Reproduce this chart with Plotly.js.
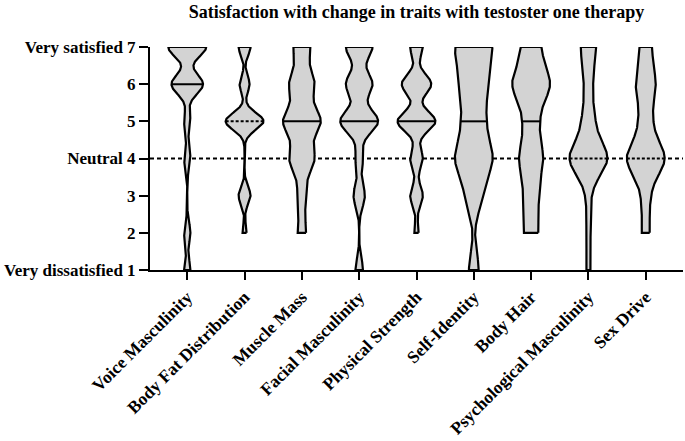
<!DOCTYPE html>
<html>
<head>
<meta charset="utf-8">
<script src="https://cdn.plot.ly/plotly-3.0.1.min.js"></script>
<style>html,body{margin:0;padding:0;background:#fff;}#chart{width:685px;height:441px;}</style>
</head>
<body>
<div id="chart"></div>
<script>
// ---------- DATA ----------
const categories = ["Voice Masculinity", "Body Fat Distribution", "Muscle Mass", "Facial Masculinity",
  "Physical Strength", "Self-Identity", "Body Hair", "Psychological Masculinity", "Sex Drive"];
const levels = [1, 2, 3, 4, 5, 6, 7];
// number of responses at each level 1..7
const countsVoiceMasculinity      = [1, 1, 0, 1, 1, 5, 6];
const countsBodyFatDistribution   = [0, 2, 6, 0, 19, 5, 6];
const countsMuscleMass            = [0, 2, 2, 6, 9, 6, 4];
const countsFacialMasculinity     = [2, 0, 3, 2, 10, 7, 7];
const countsPhysicalStrength      = [0, 1, 3, 3, 9, 7, 3];
const countsSelfIdentity          = [2, 0, 3, 7, 4, 5, 7];
const countsBodyHair              = [0, 3, 3, 5, 3, 8, 4];
const countsPsychMasculinity      = [1, 1, 1, 10, 3, 2, 4];
const countsSexDrive              = [0, 2, 2, 10, 3, 5, 3];
const medians = [6, 5, 5, 5, 5, 5, 5, 4, 4];
const yTickVals = [1, 2, 3, 4, 5, 6, 7];
const yTickText = ["Very dissatisfied 1", "2", "3", "Neutral 4", "5", "6", "Very satisfied 7"];
const neutralLevel = 4;
const chartTitle = "Satisfaction with change in traits with testoster one therapy";

// ---------- STYLE / KDE SETTINGS ----------
const allCounts = [countsVoiceMasculinity, countsBodyFatDistribution, countsMuscleMass,
  countsFacialMasculinity, countsPhysicalStrength, countsSelfIdentity, countsBodyHair,
  countsPsychMasculinity, countsSexDrive];
const bandwidths = [0.27, 0.23, 0.37, 0.31, 0.27, 0.48, 0.45, 0.45, 0.45];
const medianDotted = [false, true, false, false, false, false, false, true, true];
const halfWidth = 0.33;
const fontFam = "Liberation Serif, Times New Roman, serif";

function density(counts, h, y) {
  let s = 0;
  for (let k = 0; k < levels.length; k++) {
    const d = y - levels[k];
    s += counts[k] * Math.exp(-d * d / (2 * h * h));
  }
  return s;
}

const traces = [];
const medianTraces = [];
allCounts.forEach((counts, i) => {
  const h = bandwidths[i];
  const present = levels.filter((l, k) => counts[k] > 0);
  const lo = Math.min(...present), hi = Math.max(...present);
  const ys = [];
  const n = Math.round((hi - lo) / 0.01);
  for (let j = 0; j <= n; j++) ys.push(lo + (hi - lo) * j / n);
  const ds = ys.map(y => density(counts, h, y));
  const mx = Math.max(...ds);
  const ws = ds.map(d => halfWidth * d / mx);
  const xs = ys.map((y, j) => i + ws[j]).concat(ys.slice().reverse().map((y, j) => i - ws[ws.length - 1 - j]));
  const yy = ys.concat(ys.slice().reverse());
  xs.push(xs[0]); yy.push(yy[0]);
  traces.push({
    type: "scatter", mode: "lines", x: xs, y: yy, fill: "toself",
    fillcolor: "#d3d3d3", line: {color: "#000", width: 2.2}, hoverinfo: "skip", showlegend: false
  });
  const m = medians[i];
  const wm = halfWidth * density(counts, h, m) / mx;
  medianTraces.push({
    type: "scatter", mode: "lines", x: [i - wm, i + wm], y: [m, m],
    line: {color: "#000", width: 2, dash: medianDotted[i] ? "3px,2px" : "solid"},
    hoverinfo: "skip", showlegend: false
  });
});

const layout = {
  width: 685, height: 441,
  margin: {l: 150, r: 2, t: 47, b: 171},
  paper_bgcolor: "#fff", plot_bgcolor: "#fff",
  showlegend: false,
  title: {
    text: chartTitle,
    font: {family: fontFam, size: 18, color: "#000", weight: "bold"},
    x: 0.5, xref: "paper", xanchor: "center",
    y: 1 - 12 / 441, yref: "container", yanchor: "middle"
  },
  xaxis: {
    range: [-0.65, categories.length - 1 + 0.65],
    tickvals: categories.map((c, i) => i), ticktext: categories,
    tickangle: -45,
    ticks: "outside", ticklen: 8, tickwidth: 2, tickcolor: "#000",
    showline: true, linewidth: 2, linecolor: "#000",
    showgrid: false, zeroline: false,
    tickfont: {family: fontFam, size: 17.5, color: "#000", weight: "bold"}
  },
  yaxis: {
    range: [1, 7],
    tickvals: yTickVals, ticktext: yTickText,
    ticks: "outside", ticklen: 9, tickwidth: 2, tickcolor: "#000",
    showline: true, linewidth: 2, linecolor: "#000",
    showgrid: false, zeroline: false,
    tickfont: {family: fontFam, size: 17, color: "#000", weight: "bold"}
  },
  shapes: [{
    type: "line", xref: "paper", x0: 0, x1: 1, yref: "y", y0: neutralLevel, y1: neutralLevel,
    line: {color: "#000", width: 2, dash: "4px,3px"}, layer: "below"
  }]
};

Plotly.newPlot("chart", traces.concat(medianTraces), layout, {staticPlot: true, displayModeBar: false});
</script>
</body>
</html>
